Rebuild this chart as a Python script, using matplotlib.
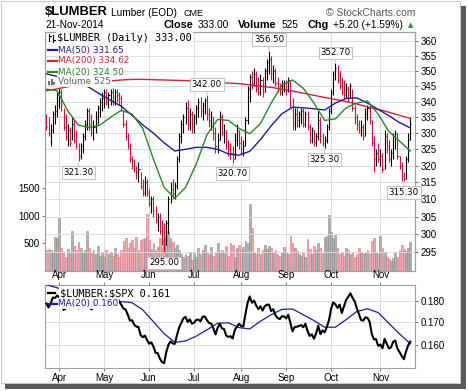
import numpy as np
import pandas as pd
import matplotlib
matplotlib.use('Agg')
import matplotlib.pyplot as plt
from matplotlib.collections import LineCollection
from matplotlib.patches import Rectangle
from matplotlib.lines import Line2D
from matplotlib.ticker import FixedLocator, FixedFormatter, NullLocator

plt.rcParams['font.family'] = ['Liberation Sans', 'DejaVu Sans']

# ---------------- data ----------------
holidays = ['2014-04-18', '2014-05-26', '2014-07-04', '2014-09-01']
dates = pd.bdate_range('2014-03-24', '2014-11-21')
dates = dates[~dates.isin(pd.to_datetime(holidays))]

prev_close0 = 334.0
high = [336, 335, 333, 337, 339, 343, 344.5, 344, 338, 336,
        333, 332, 335, 334, 331, 327, 327, 330, 334, 338,
        338, 336, 334, 337, 339, 341, 343, 344, 344, 343,
        344, 344.5, 344, 344, 343, 342, 337, 334, 330, 327,
        323, 322, 320, 321, 318, 316, 317, 316, 313, 311,
        311, 308, 306, 306, 304, 303, 304, 311, 315, 316,
        315, 323, 330, 334, 336, 340, 340.5, 338, 337, 336,
        339, 341, 341.5, 340, 341, 342, 338, 337, 335, 332,
        330, 337, 336, 333, 331, 328, 327, 326, 330, 333,
        331, 329, 328, 335, 345, 349, 350, 351, 350, 348,
        349, 348, 351, 354, 356.5, 355, 352, 351, 348, 346,
        347, 347, 347, 348, 347, 341, 338, 338, 337, 338,
        338, 337, 337, 333, 332, 331, 330, 337, 335, 330,
        329, 333, 338, 344, 350, 352.7, 352, 350, 348, 347,
        346, 345, 346, 344, 339, 336, 334, 334, 333, 338,
        339, 339, 334, 329, 325, 327, 325, 324, 331, 330,
        328, 325, 330, 331, 330, 323, 321, 318, 323, 330,
        335]
low = [331, 329, 326, 330, 333, 335, 338, 337, 331, 328,
       326, 326, 328, 327, 325, 321.3, 322, 324, 328, 331,
       331, 329, 328, 330, 333, 335, 337, 338, 339, 338,
       339, 339, 339, 340, 339, 337, 332, 328, 325, 321,
       319, 318, 316, 315, 313, 311, 311, 311, 308, 306,
       305, 303, 301, 300, 297, 295, 297, 300, 309, 310,
       310, 313, 321, 327, 330, 333, 331, 331, 330, 330,
       333, 335, 335, 334, 336, 334, 332, 331, 328, 324,
       324, 328, 329, 327, 325, 323, 322, 320.7, 322, 326,
       325, 323.5, 323, 326, 333, 340, 344, 345, 343, 342,
       342, 341.5, 343, 347, 349, 347, 346, 345, 343, 342,
       342, 343, 342, 343, 338, 331, 331, 332, 332, 333,
       332, 332, 331, 327, 327, 326, 326, 328, 327, 326,
       325.3, 327, 331, 336, 342, 347, 346, 344, 342, 341,
       341, 340, 341, 337, 333, 331, 330, 329, 328, 329,
       334, 333, 326, 318, 320, 321, 320, 318, 319, 324,
       321, 320, 322, 325, 322, 319, 315.5, 315.3, 316, 321,
       328]
close = [332, 330, 331, 336, 337, 342, 343, 339, 332, 329,
         331, 327, 333, 328, 326, 323, 326, 329, 333, 337,
         333, 330, 332, 335, 338, 340, 341, 343, 340, 342,
         343, 341, 343, 342, 341, 338, 333, 329, 326, 322,
         320, 319, 318, 319, 314, 312, 315, 312, 309, 310,
         307, 304, 305, 301, 298, 296, 303, 310, 313, 312,
         314, 322, 329, 333, 335, 338, 333, 336, 332, 335,
         338, 340, 337, 339, 340.5, 336, 334, 335, 330, 326,
         328, 335, 330, 331, 326, 325, 324, 322, 328, 331,
         327, 324, 326, 334, 344, 348, 346, 349, 344, 343,
         347, 343, 350, 353, 354, 349, 350, 346, 344, 343,
         345, 346, 344, 347, 339, 333, 336, 334, 336, 337,
         333, 336, 332, 328, 331, 327, 329, 334, 329, 327,
         328, 332, 337, 343, 349, 351, 347, 345, 343, 342,
         344, 341, 345, 338, 335, 333, 331, 332, 329, 336,
         338, 334, 327, 322, 324, 322, 323, 319, 329, 326,
         322, 324, 329, 330, 323, 320, 317, 316, 322, 327.8,
         333]
volume = [380, 400, 390, 330, 610, 600, 955, 420, 350, 260,
          400, 340, 724, 450, 380, 520, 410, 350, 380, 730,
          420, 330, 390, 300, 450, 280, 340, 260, 390, 300,
          350, 270, 420, 300, 260, 380, 550, 600, 420, 500,
          560, 420, 610, 380, 560, 580, 600, 1045, 560, 400,
          500, 380, 430, 600, 420, 580, 640, 730, 600, 520,
          420, 480, 380, 300, 250, 300, 280, 350, 200, 330,
          260, 420, 300, 380, 480, 330, 300, 430, 280, 350,
          500, 330, 380, 320, 450, 280, 500, 480, 260, 420,
          470, 380, 430, 540, 500, 1210, 790, 350, 300, 420,
          300, 380, 480, 400, 460, 420, 330, 380, 300, 270,
          340, 430, 350, 300, 645, 500, 420, 360, 300, 280,
          330, 250, 590, 400, 300, 450, 380, 500, 420, 330,
          620, 630, 1027, 700, 600, 650, 420, 300, 350, 270,
          420, 380, 300, 350, 250, 300, 420, 350, 300, 330,
          380, 300, 540, 600, 350, 300, 645, 420, 350, 260,
          220, 180, 240, 350, 250, 380, 480, 400, 360, 420,
          525]
spx = [1857, 1865, 1852, 1849, 1857, 1872,
       1886, 1891, 1889, 1865, 1845, 1852, 1872, 1833, 1815, 1830, 1842,
       1862, 1864, 1871, 1880, 1875, 1879, 1863, 1869, 1878, 1884,
       1883, 1881, 1885, 1868, 1878, 1876, 1878, 1897, 1897, 1888, 1870,
       1878, 1885, 1872, 1888, 1892, 1900, 1911, 1910, 1920, 1924,
       1925, 1924, 1927, 1940, 1949, 1951, 1950, 1943, 1931, 1937, 1938,
       1942, 1957, 1960, 1963, 1963, 1950, 1959, 1957, 1961, 1960,
       1973, 1975, 1985, 1977, 1964, 1972, 1965, 1968, 1977, 1973, 1981,
       1958, 1978, 1973, 1983, 1987, 1988, 1978, 1978, 1970, 1970, 1931,
       1925, 1939, 1920, 1920, 1910, 1931, 1937, 1934, 1947, 1955, 1955,
       1972, 1981, 1986, 1992, 1988, 1997, 2000, 2000, 1997, 2003,
       2002, 2000, 1997, 2007, 2001, 1988, 1996, 1997, 1985, 1984, 1999,
       2001, 2011, 2010, 1994, 1982, 1998, 1966, 1982, 1978, 1972,
       1946, 1946, 1967, 1964, 1935, 1968, 1928, 1906, 1874, 1877, 1862,
       1862, 1886, 1904, 1941, 1927, 1950, 1965, 1961, 1985, 1982, 1994, 2018,
       2017, 2012, 2023, 2031, 2032, 2038, 2039, 2038, 2039, 2039, 2041,
       2052, 2048, 2052, 2063]

ma_days = list(range(0, 171, 5))
ma20 = [344, 343.5, 337, 332.5, 331.8, 332.5, 335, 337.2, 336, 331.5,
        322, 313.5, 310.3, 313.5, 320.5, 329.5, 334.3, 334, 331.5, 329.8,
        333, 339.5, 345.3, 347, 344.3, 339.5, 334, 334.5, 338, 339.5,
        340.2, 336, 330.5, 327.5, 324.5]
ma50 = [349, 348.2, 347.3, 346.2, 344.6, 342.4, 340.4, 338.5, 335.6, 332.6,
        330, 327, 324.5, 325, 325.6, 325.6, 325, 323.6, 323.2, 324.4,
        328, 332.3, 336.1, 338.2, 338, 337.7, 337.3, 339.5, 341, 341.2,
        339.5, 337.5, 335.5, 333.3, 331.65]
ma200 = [343.5, 344.1, 344.8, 345.4, 346.0, 346.4, 346.7, 347.0, 347.2, 347.2,
         347.1, 347.0, 346.9, 346.8, 346.6, 346.4, 346.2, 346.0, 345.8, 345.4,
         345.0, 344.6, 344.0, 343.4, 342.7, 342.0, 341.3, 340.7, 340.0, 339.2,
         338.3, 337.5, 336.6, 335.6, 334.62]
ratio_ma20 = [0.188, 0.1865, 0.185, 0.1835, 0.182, 0.181, 0.1800, 0.1797, 0.1792, 0.1758,
              0.1703, 0.1649, 0.1611, 0.1617, 0.1638, 0.1666, 0.1696, 0.1698, 0.1676, 0.1670,
              0.1705, 0.1735, 0.1760, 0.1762, 0.1735, 0.1708, 0.1678, 0.1678, 0.1712, 0.1750,
              0.1763, 0.1745, 0.1695, 0.1648, 0.1605]

price_ticks = [295, 300, 305, 310, 315, 320, 325, 330, 335, 340, 345, 350, 355, 360]
vol_ticks = [500, 1000, 1500]
ratio_ticks = [0.160, 0.170, 0.180]
month_labels = ['Apr', 'May', 'Jun', 'Jul', 'Aug', 'Sep', 'Oct', 'Nov']

# labelled extremes: (day index, 'H' or 'L', pixel offset)
label_points = [(104, 'H', 12), (135, 'H', 10), (75, 'H', 11),
                (15, 'L', -11), (55, 'L', -11), (87, 'L', -10),
                (130, 'L', -11), (167, 'L', -11)]

# ---------------- styling ----------------
RED = '#D0103A'
NAVY = '#1E1E96'
CRIMSON = '#DC1E3C'
GREEN = '#2A862A'
GRID = '#DCDCDC'
SPINE = '#A0A0A0'

W, H = 468.0, 391.0
def fx(px):
    return px / W
def fy(py):
    return 1.0 - py / H

fig = plt.figure(figsize=(4.68, 3.91), dpi=100)
fig.patch.set_facecolor('white')

n = len(close)
xi = np.arange(n)
close_a = np.array(close, dtype=float)
prev = np.concatenate([[prev_close0], close_a[:-1]])
up = close_a >= prev
month_idx = [int(np.where(dates.month == m)[0][0]) for m in range(4, 12)]
xlim = (-0.65, 172.2)

# ---------- main panel ----------
ax_vol = fig.add_axes([fx(45), fy(271), 370 / W, 239 / H])
ax = ax_vol.twinx()

vcol = ['#B0B0B0' if u else '#F3A9B1' for u in up]
vedge = ['#8A8A8A' if u else '#DC7080' for u in up]
ax_vol.bar(xi, volume, width=0.85, color=vcol, edgecolor=vedge, linewidth=0.4, zorder=2)
ax_vol.set_ylim(0, 4345)
ax_vol.set_xlim(*xlim)
ax_vol.yaxis.set_major_locator(FixedLocator(vol_ticks))
ax_vol.yaxis.set_major_formatter(FixedFormatter([str(v) for v in vol_ticks]))
ax_vol.tick_params(axis='y', length=2.5, pad=1.5, labelsize=7, color='#808080')
ax_vol.tick_params(axis='x', length=0, labelbottom=False)
ax_vol.set_xticks(month_idx)
ax_vol.grid(axis='x', color=GRID, lw=0.7, zorder=0)
ax_vol.set_axisbelow(True)
for s in ax_vol.spines.values():
    s.set_color(SPINE); s.set_linewidth(0.8)

ax.set_yscale('log')
ax.set_ylim(289.7, 363.1)
ax.set_xlim(*xlim)
ax.patch.set_visible(False)
ax.yaxis.set_major_locator(FixedLocator(price_ticks))
ax.yaxis.set_major_formatter(FixedFormatter([str(v) for v in price_ticks]))
ax.yaxis.set_minor_locator(NullLocator())
ax.tick_params(axis='y', which='major', length=2.5, pad=1.5, labelsize=7, color='#808080')
ax.tick_params(axis='x', length=0, labelbottom=False)
for v in price_ticks:
    ax.axhline(v, color=GRID, lw=0.7, zorder=0.5)
for s in ax.spines.values():
    s.set_color(SPINE); s.set_linewidth(0.8)

bar_cols = ['black' if u else RED for u in up]
segs_v = [((i, l), (i, h)) for i, (h, l) in enumerate(zip(high, low))]
segs_c = [((i, c), (i + 0.5, c)) for i, c in enumerate(close)]
ax.add_collection(LineCollection(segs_v, colors=bar_cols, linewidths=0.8, zorder=3))
ax.add_collection(LineCollection(segs_c, colors=bar_cols, linewidths=0.8, zorder=3))

ax.plot(ma_days, ma200, color=CRIMSON, lw=1.0, zorder=4)
ax.plot(ma_days, ma50, color=NAVY, lw=1.0, zorder=4)
ax.plot(ma_days, ma20, color=GREEN, lw=1.0, zorder=4)

for idx, kind, off in label_points:
    val = high[idx] if kind == 'H' else low[idx]
    ax.annotate(f'{val:.2f}', xy=(idx, val), xytext=(0, off * 0.72),
                textcoords='offset points', ha='center', va='center',
                fontsize=6.2, family='DejaVu Sans', zorder=6,
                bbox=dict(boxstyle='square,pad=0.2', fc='white', ec='#C4C4C4', lw=0.8),
                arrowprops=dict(arrowstyle='-', color='#C4C4C4', lw=0.8,
                                shrinkA=0, shrinkB=1))

# legend of main panel
lbg = dict(boxstyle='square,pad=0.1', fc='white', ec='none', alpha=0.92)
fig.text(fx(57), fy(38), r'\$LUMBER (Daily) 333.00', fontsize=7.4, family='DejaVu Sans Mono',
         va='center', ha='left', color='black', bbox=lbg, zorder=10)
for ly, txt, col in [(50, 'MA(50) 331.65', NAVY), (61, 'MA(200) 334.62', CRIMSON),
                     (72, 'MA(20) 324.50', GREEN)]:
    fig.text(fx(57.5), fy(ly), txt, fontsize=6.4, family='DejaVu Sans', va='center',
             ha='left', color=col, bbox=lbg, zorder=10)
    fig.add_artist(Line2D([fx(47.5), fx(57)], [fy(ly), fy(ly)], color=col, lw=1.6, zorder=11))
fig.text(fx(58), fy(82), 'Volume 525', fontsize=6.4, family='DejaVu Sans', va='center',
         ha='left', color='#606060', bbox=lbg, zorder=10)
for bx, bh in [(48, 4), (50.5, 6), (53, 3.5)]:
    fig.add_artist(Rectangle((fx(bx), fy(85)), 2 / W, bh / H, fc='#707070', ec='none', zorder=11))
# small bar icon
for (ix, y0, y1, yc) in [(49, 34, 41, 36), (53, 35, 42, 40)]:
    fig.add_artist(Line2D([fx(ix), fx(ix)], [fy(y0), fy(y1)], color='black', lw=0.8, zorder=11))
    fig.add_artist(Line2D([fx(ix), fx(ix + 1.5)], [fy(yc), fy(yc)], color='black', lw=0.8, zorder=11))

# ---------- ratio panel ----------
ax2 = fig.add_axes([fx(45), fy(368), 370 / W, 83 / H])
ratio = close_a / np.array(spx, dtype=float)
ax2.set_yscale('log')
ax2.set_ylim(0.1504, 0.1879)
ax2.set_xlim(*xlim)
for v in ratio_ticks:
    ax2.axhline(v, color=GRID, lw=0.7, zorder=0.5)
for m in month_idx:
    ax2.axvline(m, color=GRID, lw=0.7, zorder=0.5)
ax2.plot(ma_days, ratio_ma20, color=NAVY, lw=0.9, zorder=3)
ax2.plot(xi, ratio, color='black', lw=1.5, zorder=4)
ax2.yaxis.tick_right()
ax2.yaxis.set_major_locator(FixedLocator(ratio_ticks))
ax2.yaxis.set_major_formatter(FixedFormatter([f'{v:.3f}' for v in ratio_ticks]))
ax2.yaxis.set_minor_locator(NullLocator())
ax2.tick_params(axis='y', which='major', length=2.5, pad=1.5, labelsize=7, color='#808080')
ax2.set_xticks(month_idx)
ax2.set_xticklabels(month_labels)
ax2.tick_params(axis='x', top=True, bottom=True, labeltop=True, labelbottom=True,
                length=2.5, pad=1.2, labelsize=7, color='#808080')
for s in ax2.spines.values():
    s.set_color(SPINE); s.set_linewidth(0.8)

fig.text(fx(60), fy(293), r'\$LUMBER:\$SPX 0.161', fontsize=7.4, family='DejaVu Sans Mono',
         va='center', ha='left', color='black', bbox=lbg, zorder=10)
fig.add_artist(Line2D([fx(48), fx(55)], [fy(293), fy(293)], color='black', lw=1.6, zorder=11))
fig.text(fx(57.5), fy(303.5), 'MA(20) 0.160', fontsize=6.4, family='DejaVu Sans',
         va='center', ha='left', color=NAVY, bbox=lbg, zorder=10)
fig.add_artist(Line2D([fx(48), fx(57)], [fy(303.5), fy(303.5)], color=NAVY, lw=1.6, zorder=11))

# ---------- header ----------
fig.text(fx(45), fy(12), r'\$LUMBER', fontsize=9.4, fontweight='bold', va='center', ha='left')
fig.text(fx(111), fy(12.5), 'Lumber (EOD)', fontsize=7.3, va='center', ha='left')
fig.text(fx(184), fy(13), 'CME', fontsize=6.5, va='center', ha='left')
fig.text(fx(415), fy(12.5), '\u00a9 StockCharts.com', fontsize=7.5, va='center', ha='right',
         color='#555555')
fig.text(fx(45), fy(25), '21-Nov-2014', fontsize=7.3, va='center', ha='left')
fig.text(fx(164), fy(25), 'Close', fontsize=7.8, fontweight='bold', va='center', ha='left')
fig.text(fx(198), fy(25), '333.00', fontsize=7.3, va='center', ha='left')
fig.text(fx(238), fy(25), 'Volume', fontsize=7.8, fontweight='bold', va='center', ha='left')
fig.text(fx(282), fy(25), '525', fontsize=7.3, va='center', ha='left')
fig.text(fx(308), fy(25), 'Chg', fontsize=7.8, fontweight='bold', va='center', ha='left')
fig.text(fx(333), fy(25), '+5.20 (+1.59%)', fontsize=7.3, va='center', ha='left')
fig.text(fx(411), fy(25.5), '\u25b2', fontsize=5, va='center', ha='center', color='#2E8B3E',
         family=['DejaVu Sans'])

# ---------- frame and shadow ----------
fig.add_artist(Rectangle((fx(1), fy(383)), 459 / W, 382 / H, fill=False, ec='#C8C8C8', lw=0.7))
fig.add_artist(Rectangle((fx(460.5), fy(389)), 5 / W, 383 / H, fc='#5A5A5A', ec='none'))
fig.add_artist(Rectangle((fx(5), fy(389)), 460.5 / W, 5.5 / H, fc='#5A5A5A', ec='none'))

fig.savefig('out.png', dpi=100, facecolor='white')
